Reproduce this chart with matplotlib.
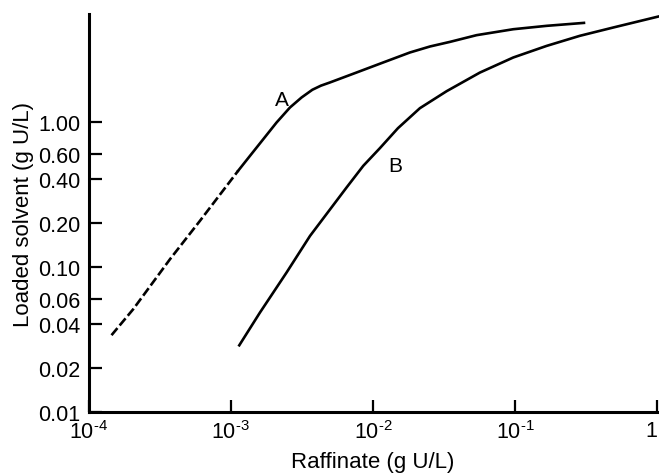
import matplotlib
matplotlib.use("Agg")
import matplotlib.pyplot as plt

plt.rcParams['font.family'] = ['Liberation Sans', 'DejaVu Sans']
plt.rcParams['mathtext.fontset'] = 'custom'
plt.rcParams['mathtext.rm'] = 'Liberation Sans'

# curve A, dashed part (extrapolated) then solid part
a_dash_x = [1.45e-4, 2.06e-4, 3.74e-4, 6.07e-4, 1.13e-3]
a_dash_y = [0.0337, 0.0509, 0.1127, 0.207, 0.46]
a_x = [1.13e-3, 1.365e-3, 1.693e-3, 2.10e-3, 2.61e-3, 3.15e-3, 3.75e-3,
       4.31e-3, 4.98e-3, 7.68e-3, 1.181e-2, 1.82e-2, 2.52e-2, 3.48e-2,
       5.36e-2, 9.70e-2, 0.1665, 0.305]
a_y = [0.46, 0.581, 0.757, 0.987, 1.253, 1.469, 1.66,
       1.772, 1.863, 2.184, 2.56, 3.00, 3.30, 3.55,
       3.95, 4.34, 4.58, 4.80]

# curve B
b_x = [1.148e-3, 1.605e-3, 2.47e-3, 3.61e-3, 6.53e-3, 8.55e-3,
       1.12e-2, 1.50e-2, 2.14e-2, 3.30e-2, 5.65e-2, 9.70e-2, 0.1665,
       0.2856, 0.490, 1.026]
b_y = [0.0287, 0.0483, 0.0912, 0.163, 0.352, 0.496,
       0.657, 0.902, 1.239, 1.623, 2.18, 2.77, 3.33,
       3.91, 4.46, 5.32]

x_ticks = [1e-4, 1e-3, 1e-2, 1e-1, 1]
x_labels = ['$\\mathregular{10^{\\text{-}4}}$', '$\\mathregular{10^{\\text{-}3}}$',
            '$\\mathregular{10^{\\text{-}2}}$', '$\\mathregular{10^{\\text{-}1}}$', '1']
y_ticks = [0.01, 0.02, 0.04, 0.06, 0.1, 0.2, 0.4, 0.6, 1.0]
y_labels = ['0.01', '0.02', '0.04', '0.06', '0.10', '0.20', '0.40', '0.60', '1.00']

fig = plt.figure(figsize=(6.59, 4.77), dpi=100)
ax = fig.add_axes([0.1344, 0.1348, 0.8630, 0.8331])

lw = 1.9
ax.plot(a_dash_x, a_dash_y, color='black', lw=lw, linestyle=(0, (3.5, 1.3)),
        solid_capstyle='butt')
ax.plot(a_x, a_y, color='black', lw=lw)
ax.plot(b_x, b_y, color='black', lw=lw, clip_on=False)

ax.text(2.28e-3, 1.43, 'A', fontsize=15, ha='center', va='center')
ax.text(1.43e-2, 0.496, 'B', fontsize=15, ha='center', va='center')

ax.set_xscale('log')
ax.set_yscale('log')
ax.set_xlim(1e-4, 1)
ax.set_ylim(0.01, 5.5)

ax.set_xticks(x_ticks)
ax.set_xticklabels(x_labels)
ax.set_yticks(y_ticks)
ax.set_yticklabels(y_labels)
ax.minorticks_off()
ax.tick_params(direction='in', length=9, width=1.6, labelsize=15.5, pad=6)
ax.get_xticklabels()[-1].set_ha('right')

for side in ['top', 'right']:
    ax.spines[side].set_visible(False)
for side in ['left', 'bottom']:
    ax.spines[side].set_linewidth(2.2)

ax.set_xlabel('Raffinate (g U/L)', fontsize=16, labelpad=6)
ax.set_ylabel('Loaded solvent (g U/L)', fontsize=16, labelpad=3)

fig.savefig('out.png', dpi=100)
